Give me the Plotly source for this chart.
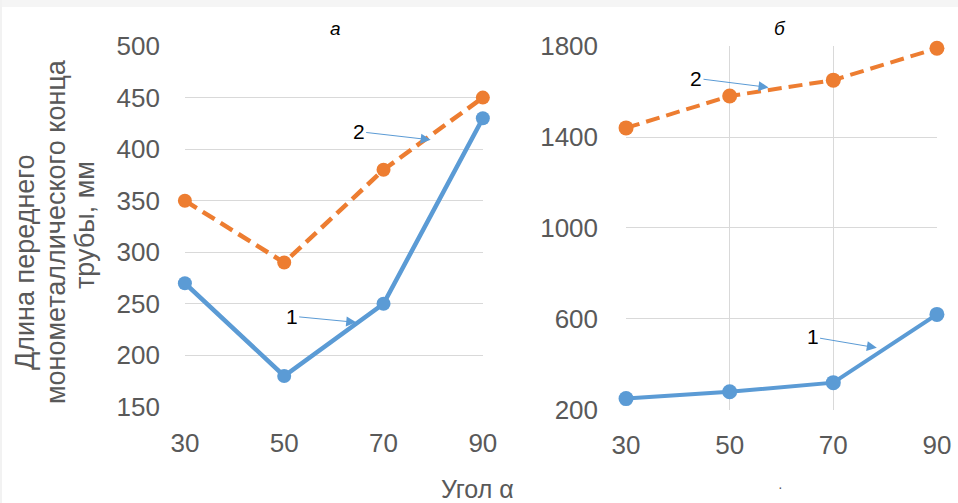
import plotly.graph_objects as go

angles = [30, 50, 70, 90]
a_series1 = [270, 180, 250, 430]
a_series2 = [350, 290, 380, 450]
b_series1 = [250, 280, 320, 620]
b_series2 = [1440, 1580, 1650, 1790]
a_yticks = [150, 200, 250, 300, 350, 400, 450, 500]
b_yticks = [200, 600, 1000, 1400, 1800]
y_title_lines = ["Длина переднего", "монометаллического конца", "трубы, мм"]

BLUE = "#5B9BD5"
ORANGE = "#ED7D31"
GRAY = "#595959"
FONT = "Liberation Sans, Arial, sans-serif"

fig = go.Figure()
# panel a
fig.add_trace(go.Scatter(x=angles, y=a_series1, mode="lines+markers", xaxis="x", yaxis="y",
                         line=dict(color=BLUE, width=4.5), marker=dict(size=14, color=BLUE),
                         cliponaxis=False, showlegend=False))
fig.add_trace(go.Scatter(x=angles, y=a_series2, mode="lines+markers", xaxis="x", yaxis="y",
                         line=dict(color=ORANGE, width=4.5, dash="14px,7px"), marker=dict(size=14, color=ORANGE),
                         cliponaxis=False, showlegend=False))
# panel b
fig.add_trace(go.Scatter(x=angles, y=b_series1, mode="lines+markers", xaxis="x2", yaxis="y2",
                         line=dict(color=BLUE, width=4), marker=dict(size=15, color=BLUE),
                         cliponaxis=False, showlegend=False))
fig.add_trace(go.Scatter(x=angles, y=b_series2, mode="lines+markers", xaxis="x2", yaxis="y2",
                         line=dict(color=ORANGE, width=4, dash="14px,7px"), marker=dict(size=15, color=ORANGE),
                         cliponaxis=False, showlegend=False))

tickfont = dict(family=FONT, size=26, color=GRAY)
ax_common = dict(tickfont=tickfont, zeroline=False, showline=False, ticks="", automargin=False)

fig.update_layout(
    width=958, height=503,
    margin=dict(l=0, r=0, t=0, b=0),
    paper_bgcolor="white", plot_bgcolor="white",
    font=dict(family=FONT),
    xaxis=dict(domain=[0.193, 0.504], range=[30, 90], tickvals=angles, showgrid=False,
               anchor="y", ticklabelstandoff=18, **ax_common),
    yaxis=dict(domain=[0.191, 0.9085], range=[150, 500], tickvals=a_yticks, showgrid=True,
               gridcolor="#D9D9D9", gridwidth=1, anchor="x", ticklabelstandoff=24, **ax_common),
    xaxis2=dict(domain=[0.6535, 0.978], range=[30, 90], tickvals=angles, showgrid=True,
                gridcolor="#D9D9D9", anchor="y2", ticklabelstandoff=17, **ax_common),
    yaxis2=dict(domain=[0.185, 0.9085], range=[200, 1800], tickvals=b_yticks, showgrid=True,
                gridcolor="#D9D9D9", anchor="x2", ticklabelstandoff=27, **ax_common),
)

def label(text, px, py, size, color=GRAY, angle=0):
    return dict(text=text, xref="paper", yref="paper", x=px/958, y=1-py/503, textangle=angle,
                xanchor="center", yanchor="middle", showarrow=False,
                font=dict(family=FONT, size=size, color=color))

ann = []
# panel titles
ann.append(label("<i>а</i>", 335, 28, 19, "black"))
ann.append(label("<i>б</i>", 780, 28, 19, "black"))
# y axis title (three lines, tight spacing)
for line, px, py in zip(y_title_lines, [25, 56, 85], [262, 232, 225]):
    ann.append(label(line, px, py, 27, angle=-90))
# x axis title
ann.append(label("Угол α", 477, 489, 25))
ann.append(label("·", 780, 487, 14))
# callouts
arrow = dict(showarrow=True, arrowhead=2, arrowsize=2, arrowwidth=1, arrowcolor=BLUE,
             font=dict(family=FONT, size=21, color="black"))
ann.append(dict(text="2", xref="x", yref="y", x=79.5, y=409, axref="x", ayref="y", ax=65, ay=417, **arrow))
ann.append(dict(text="1", xref="x", yref="y", x=64.5, y=232, axref="x", ayref="y", ax=51.5, ay=238, **arrow))
ann.append(dict(text="2", xref="x2", yref="y2", x=57.5, y=1618, axref="x2", ayref="y2", ax=43.5, ay=1658, **arrow))
ann.append(dict(text="1", xref="x2", yref="y2", x=78.4, y=473, axref="x2", ayref="y2", ax=66, ay=521, **arrow))
fig.update_layout(annotations=ann)

# light frame at top and left edges like the reference scan
fig.add_shape(type="rect", xref="paper", yref="paper", x0=0, x1=1, y0=1-7/503, y1=1,
              line=dict(width=0), fillcolor="#F5F5F5", layer="below")
fig.add_shape(type="rect", xref="paper", yref="paper", x0=0, x1=2/958, y0=0, y1=1,
              line=dict(width=0), fillcolor="#F2F2F2", layer="below")

fig.write_html("out.html", config={"displayModeBar": False},
               post_script="document.body.style.margin='0';")
